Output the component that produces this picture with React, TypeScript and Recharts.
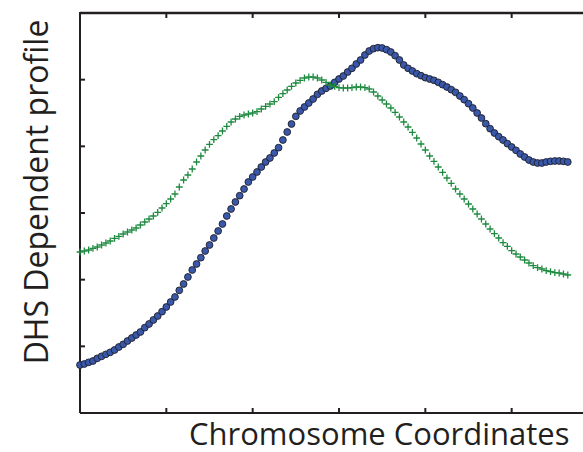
import { ComposedChart, ReferenceLine, Scatter, XAxis, YAxis } from "recharts";

// profile values, one per sample along the region (sample index = position)
const dhsProfile = [
  0.72, 0.735, 0.76, 0.78, 0.82, 0.85, 0.88, 0.91, 0.945, 0.99,
  1.03, 1.08, 1.125, 1.17, 1.215, 1.28, 1.335, 1.395, 1.455, 1.52,
  1.59, 1.665, 1.74, 1.84, 1.935, 2.04, 2.145, 2.235, 2.33, 2.43,
  2.52, 2.625, 2.73, 2.835, 2.955, 3.06, 3.165, 3.26, 3.36, 3.465,
  3.54, 3.615, 3.69, 3.765, 3.825, 3.9, 3.98, 4.095, 4.215, 4.335,
  4.45, 4.53, 4.59, 4.65, 4.71, 4.78, 4.83, 4.87, 4.905, 4.96,
  5.01, 5.055, 5.115, 5.17, 5.235, 5.295, 5.37, 5.43, 5.465, 5.48,
  5.475, 5.45, 5.415, 5.36, 5.295, 5.22, 5.17, 5.13, 5.09, 5.06,
  5.03, 5.01, 4.99, 4.96, 4.925, 4.89, 4.85, 4.81, 4.755, 4.7,
  4.64, 4.575, 4.5, 4.425, 4.34, 4.265, 4.2, 4.145, 4.095, 4.04,
  3.99, 3.94, 3.885, 3.84, 3.795, 3.765, 3.75, 3.75, 3.765, 3.775,
  3.78, 3.78, 3.775, 3.765,
];

const otherProfile = [
  2.415, 2.43, 2.445, 2.47, 2.49, 2.52, 2.55, 2.58, 2.62, 2.65,
  2.685, 2.715, 2.745, 2.775, 2.82, 2.865, 2.91, 2.955, 3.01, 3.075,
  3.14, 3.21, 3.285, 3.39, 3.495, 3.57, 3.66, 3.765, 3.855, 3.945,
  4.03, 4.1, 4.16, 4.23, 4.3, 4.365, 4.41, 4.45, 4.47, 4.485,
  4.5, 4.52, 4.56, 4.6, 4.635, 4.67, 4.735, 4.79, 4.845, 4.9,
  4.95, 4.99, 5.025, 5.04, 5.04, 5.025, 4.995, 4.96, 4.92, 4.9,
  4.88, 4.875, 4.875, 4.88, 4.89, 4.89, 4.88, 4.86, 4.815, 4.755,
  4.695, 4.635, 4.575, 4.51, 4.44, 4.365, 4.29, 4.21, 4.125, 4.035,
  3.945, 3.855, 3.775, 3.69, 3.61, 3.525, 3.445, 3.36, 3.285, 3.21,
  3.135, 3.06, 2.985, 2.91, 2.835, 2.76, 2.69, 2.625, 2.555, 2.5,
  2.435, 2.385, 2.34, 2.295, 2.25, 2.21, 2.18, 2.16, 2.135, 2.12,
  2.105, 2.1, 2.085, 2.07,
];

const xTicks = [20, 40, 60, 80, 100];
const yTicks = [1, 2, 3, 4, 5];
const Y_MAX = 6;

const AXIS = "#231f20";

const dhsPoints = dhsProfile.map((v, i) => ({ x: i, y: v }));
const otherPoints = otherProfile.map((v, i) => ({ x: i, y: v }));

const Dot = (p: any) => (
  <circle cx={p.cx} cy={p.cy} r={3.4} fill="#3a58aa" stroke="#1e1e2a" strokeWidth={0.9} />
);

const Plus = (p: any) => (
  <path
    d={`M${p.cx - 3.4},${p.cy}H${p.cx + 3.4}M${p.cx},${p.cy - 3.4}V${p.cy + 3.4}`}
    stroke="#1e8a40"
    strokeWidth={1.3}
    fill="none"
  />
);

export default function App() {
  return (
    <div style={{ position: "fixed", left: 0, top: 0, width: 583, height: 452, overflow: "hidden", background: "#fff" }}>
      <ComposedChart width={640} height={452} margin={{ top: 13, right: 42, bottom: 39, left: 80 }}>
        <XAxis type="number" dataKey="x" domain={[0, 120]} ticks={xTicks} mirror tickSize={5} stroke={AXIS} strokeWidth={2} tickFormatter={() => ""} />
        <XAxis xAxisId="t" orientation="top" type="number" dataKey="x" domain={[0, 120]} ticks={xTicks} mirror tickSize={5} stroke={AXIS} strokeWidth={2} tickFormatter={() => ""} />
        <YAxis type="number" dataKey="y" domain={[0, Y_MAX]} ticks={yTicks} mirror tickSize={5} stroke={AXIS} strokeWidth={2} tickFormatter={() => ""} />
        {/* top spine of the frame */}
        <ReferenceLine y={Y_MAX} stroke="#2a2426" strokeWidth={2.5} ifOverflow="visible" />
        <Scatter data={dhsPoints} shape={Dot} isAnimationActive={false} />
        <Scatter data={otherPoints} xAxisId="t" shape={Plus} isAnimationActive={false} />
        <line x1={79} x2={640} y1={13} y2={13} stroke={AXIS} strokeWidth={2} />
        <text x={48} y={192} transform="rotate(-90 48 192)" textAnchor="middle" fontFamily="Open Sans" fontSize={32} fill={AXIS}>
          DHS Dependent profile
        </text>
        <text x={189} y={445} textAnchor="start" fontFamily="Open Sans" fontSize={31} fill={AXIS}>
          Chromosome Coordinates
        </text>
      </ComposedChart>
    </div>
  );
}
